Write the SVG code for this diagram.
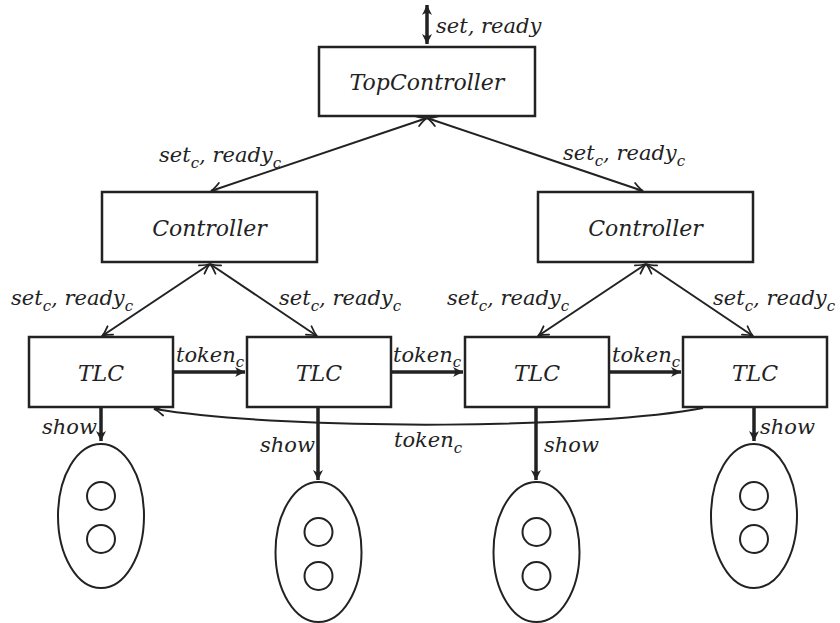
<svg xmlns="http://www.w3.org/2000/svg" width="840" height="623" viewBox="0 0 840 623">
  <style>
    .box { fill: #fff; stroke: #222; stroke-width: 2.5; }
    .lamp { fill: none; stroke: #222; stroke-width: 2; }
    text { font-family: 'DejaVu Serif', serif; font-style: italic; font-size: 22px; fill: #222; }
    .edge text { font-size: 21px; }
    .sub { font-size: 15px; }
    .thin { fill: none; stroke: #222; stroke-width: 2; }
    .thick { fill: none; stroke: #222; stroke-width: 3.5; }
  </style>
  <defs>
    <marker id="tip" viewBox="-12 -8 14 16" markerWidth="14" markerHeight="16" refX="0" refY="0" orient="auto-start-reverse" markerUnits="userSpaceOnUse">
      <path d="M-10,-5 Q-4,-1 0,0 Q-4,1 -10,5" fill="none" stroke="#222" stroke-width="1.8" stroke-linecap="round"/>
    </marker>
    <marker id="tipBold" viewBox="-12 -8 14 16" markerWidth="14" markerHeight="16" refX="0" refY="0" orient="auto-start-reverse" markerUnits="userSpaceOnUse">
      <path d="M0,0 L-10,-5 Q-6,0 -10,5 Z" fill="#222"/>
    </marker>
  </defs>

  <!-- connectors -->
  <g id="connectors">
    <line class="thick" x1="427" y1="5" x2="427" y2="44" marker-start="url(#tipBold)" marker-end="url(#tipBold)"/>
    <line class="thin" x1="427" y1="118" x2="211" y2="191" marker-start="url(#tip)" marker-end="url(#tip)"/>
    <line class="thin" x1="427" y1="118" x2="643" y2="191" marker-start="url(#tip)" marker-end="url(#tip)"/>
    <line class="thin" x1="210" y1="264" x2="102" y2="336" marker-start="url(#tip)" marker-end="url(#tip)"/>
    <line class="thin" x1="210" y1="264" x2="317" y2="336" marker-start="url(#tip)" marker-end="url(#tip)"/>
    <line class="thin" x1="646" y1="264" x2="538" y2="336" marker-start="url(#tip)" marker-end="url(#tip)"/>
    <line class="thin" x1="646" y1="264" x2="753" y2="336" marker-start="url(#tip)" marker-end="url(#tip)"/>
    <line class="thick" x1="174" y1="372" x2="245" y2="372" marker-end="url(#tipBold)"/>
    <line class="thick" x1="392" y1="372" x2="463" y2="372" marker-end="url(#tipBold)"/>
    <line class="thick" x1="610" y1="372" x2="681" y2="372" marker-end="url(#tipBold)"/>
    <line class="thick" x1="101" y1="408" x2="101" y2="441" marker-end="url(#tipBold)"/>
    <line class="thick" x1="318" y1="408" x2="318" y2="480" marker-end="url(#tipBold)"/>
    <line class="thick" x1="536" y1="408" x2="536" y2="480" marker-end="url(#tipBold)"/>
    <line class="thick" x1="754" y1="408" x2="754" y2="441" marker-end="url(#tipBold)"/>
    <path class="thin" d="M703,408 C600,428 300,432 154,409" marker-end="url(#tip)"/>
  </g>

  <!-- connector labels -->
  <g id="labels" class="edge">
    <text x="436" y="33">set, ready</text>
    <text x="159" y="162">set<tspan class="sub" dy="6">c</tspan><tspan dy="-6">, ready</tspan><tspan class="sub" dy="6">c</tspan></text>
    <text x="563" y="160">set<tspan class="sub" dy="6">c</tspan><tspan dy="-6">, ready</tspan><tspan class="sub" dy="6">c</tspan></text>
    <text x="11" y="305">set<tspan class="sub" dy="6">c</tspan><tspan dy="-6">, ready</tspan><tspan class="sub" dy="6">c</tspan></text>
    <text x="279" y="305">set<tspan class="sub" dy="6">c</tspan><tspan dy="-6">, ready</tspan><tspan class="sub" dy="6">c</tspan></text>
    <text x="447" y="305">set<tspan class="sub" dy="6">c</tspan><tspan dy="-6">, ready</tspan><tspan class="sub" dy="6">c</tspan></text>
    <text x="713" y="305">set<tspan class="sub" dy="6">c</tspan><tspan dy="-6">, ready</tspan><tspan class="sub" dy="6">c</tspan></text>
    <text x="176" y="362">token<tspan class="sub" dy="5">c</tspan></text>
    <text x="393" y="362">token<tspan class="sub" dy="5">c</tspan></text>
    <text x="612" y="362">token<tspan class="sub" dy="5">c</tspan></text>
    <text x="394" y="447">token<tspan class="sub" dy="6">c</tspan></text>
    <text x="42" y="434">show</text>
    <text x="260" y="452">show</text>
    <text x="544" y="452">show</text>
    <text x="760" y="434">show</text>
  </g>

  <!-- controllers -->
  <g id="top-controller">
    <rect class="box" x="319" y="47" width="216" height="69"/>
    <text x="427" y="90" text-anchor="middle">TopController</text>
  </g>
  <g id="controller-left">
    <rect class="box" x="102" y="192" width="215" height="70"/>
    <text x="209.5" y="236" text-anchor="middle">Controller</text>
  </g>
  <g id="controller-right">
    <rect class="box" x="538" y="192" width="215" height="70"/>
    <text x="645.5" y="236" text-anchor="middle">Controller</text>
  </g>

  <!-- traffic light controllers -->
  <g id="tlc-1">
    <rect class="box" x="29" y="337" width="144" height="70"/>
    <text x="101" y="381" text-anchor="middle">TLC</text>
  </g>
  <g id="tlc-2">
    <rect class="box" x="247" y="337" width="144" height="70"/>
    <text x="319" y="381" text-anchor="middle">TLC</text>
  </g>
  <g id="tlc-3">
    <rect class="box" x="465" y="337" width="144" height="70"/>
    <text x="537" y="381" text-anchor="middle">TLC</text>
  </g>
  <g id="tlc-4">
    <rect class="box" x="683" y="337" width="144" height="70"/>
    <text x="755" y="381" text-anchor="middle">TLC</text>
  </g>

  <!-- traffic lights -->
  <g id="light-1">
    <ellipse class="lamp" cx="101" cy="516" rx="43" ry="72"/>
    <circle class="lamp" cx="101" cy="496" r="14"/>
    <circle class="lamp" cx="101" cy="539" r="14"/>
  </g>
  <g id="light-2">
    <ellipse class="lamp" cx="318.5" cy="552" rx="43" ry="70"/>
    <circle class="lamp" cx="318.5" cy="532" r="14"/>
    <circle class="lamp" cx="318.5" cy="576" r="14"/>
  </g>
  <g id="light-3">
    <ellipse class="lamp" cx="536.5" cy="552" rx="43" ry="70"/>
    <circle class="lamp" cx="536.5" cy="532" r="14"/>
    <circle class="lamp" cx="536.5" cy="576" r="14"/>
  </g>
  <g id="light-4">
    <ellipse class="lamp" cx="754" cy="516" rx="43" ry="72"/>
    <circle class="lamp" cx="754" cy="496" r="14"/>
    <circle class="lamp" cx="754" cy="539" r="14"/>
  </g>
</svg>
